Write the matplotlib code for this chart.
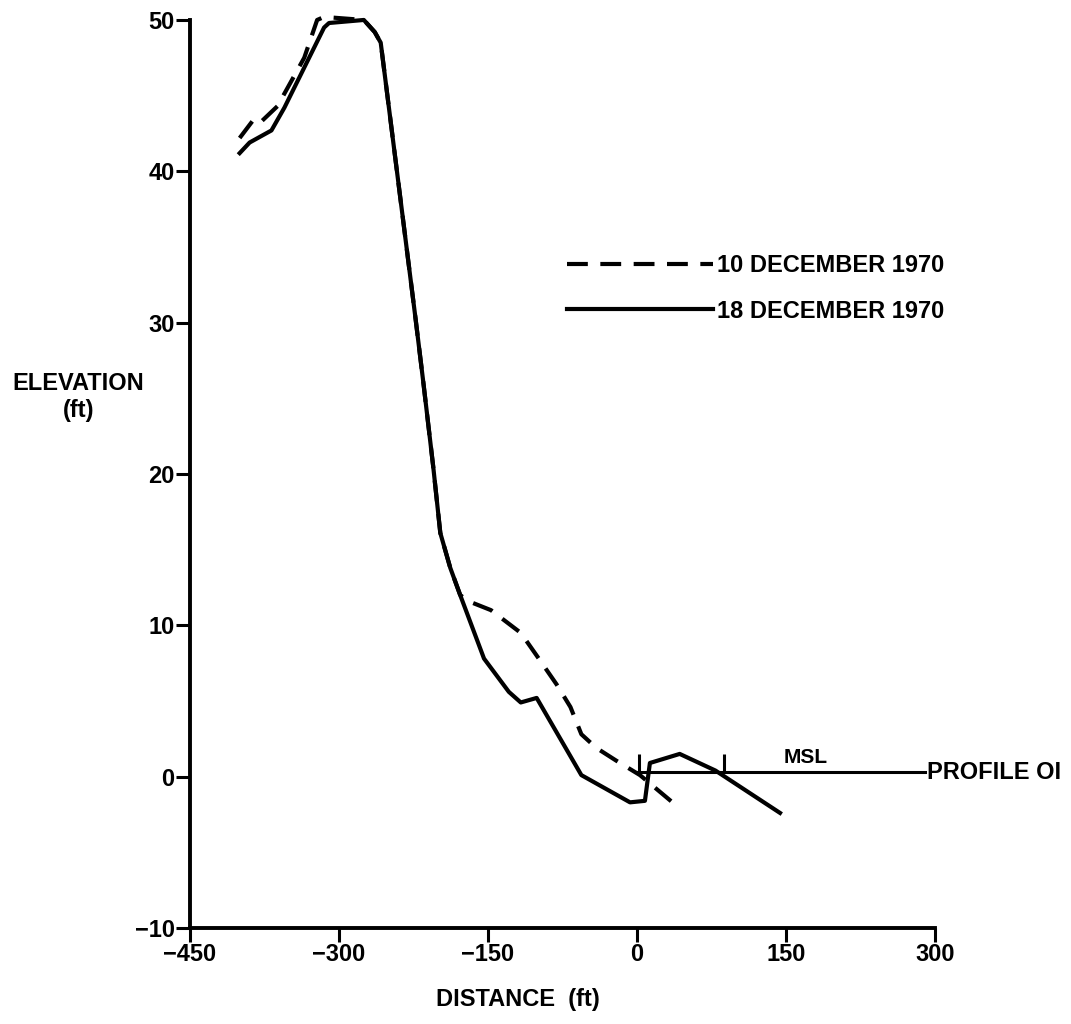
import matplotlib
matplotlib.use("Agg")
import matplotlib.pyplot as plt

# 18 December 1970 profile (solid)
solid_x = [-400, -390, -368, -355, -315, -310, -275, -264, -258, -238, -223, -215,
           -205, -198, -188, -178, -154, -129, -117, -101, -56, -7, 8, 13, 43, 79, 144]
solid_y = [41.2, 41.9, 42.7, 44.2, 49.5, 49.8, 50.0, 49.2, 48.5, 38.1, 30.3, 26.0,
           20.4, 16.1, 13.8, 12.0, 7.8, 5.6, 4.9, 5.2, 0.1, -1.7, -1.6, 0.9, 1.5, 0.4, -2.4]

# 10 December 1970 profile (dashed)
dashed_x = [-400, -385, -378, -362, -335, -322, -315, -275, -264, -258, -238, -223,
            -215, -205, -198, -188, -178, -170, -147, -117, -101, -81, -67, -56, -41,
            -21, 3, 43]
dashed_y = [42.2, 43.5, 43.3, 44.3, 47.5, 50.0, 50.2, 50.0, 49.2, 48.5, 38.1, 30.3,
            26.0, 20.4, 16.1, 13.8, 12.0, 11.6, 11.0, 9.5, 8.0, 6.1, 4.6, 2.8, 1.9,
            1.06, 0.1, -2.1]

msl_x = [0, 290]
msl_y = 0.3
msl_marks = [2, 88]
msl_mark_top = 1.5

x_ticks = [-450, -300, -150, 0, 150, 300]
y_ticks = [-10, 0, 10, 20, 30, 40, 50]

plt.rcParams['font.family'] = ['Liberation Sans', 'DejaVu Sans']
plt.rcParams['font.weight'] = 'bold'
plt.rcParams['axes.labelweight'] = 'bold'

fig = plt.figure(figsize=(10.71, 10.24), dpi=100)
ax = fig.add_axes([0.1774, 0.0938, 0.6956, 0.8867])

ax.plot(dashed_x, dashed_y, color='black', lw=3, dashes=(5, 3), clip_on=False,
        label='10 DECEMBER 1970')
ax.plot(solid_x, solid_y, color='black', lw=3, solid_joinstyle='round',
        clip_on=False, label='18 DECEMBER 1970')

# mean sea level line
ax.plot(msl_x, [msl_y, msl_y], color='black', lw=2.2)
ax.vlines(msl_marks, msl_y, msl_mark_top, color='black', lw=2.2)
ax.text(170, msl_y + 0.35, 'MSL', ha='center', va='bottom', fontsize=15)
ax.text(msl_x[1] + 2, msl_y, 'PROFILE OI', ha='left', va='center', fontsize=17,
        clip_on=False)

ax.set_xlim(-450, 300)
ax.set_ylim(-10, 50)
ax.set_xticks(x_ticks)
ax.set_yticks(y_ticks)
ax.set_xticklabels([str(v).replace('-', '\u2212') for v in x_ticks])
ax.set_yticklabels([str(v).replace('-', '\u2212') for v in y_ticks])

for side in ['top', 'right']:
    ax.spines[side].set_visible(False)
for side in ['left', 'bottom']:
    ax.spines[side].set_linewidth(2.8)
ax.tick_params(axis='both', length=10, width=2.2, labelsize=17, pad=1)

ax.set_xlabel('DISTANCE  (ft)', fontsize=17)
ax.xaxis.set_label_coords(0.44, -0.066)
ax.set_ylabel('ELEVATION\n(ft)', fontsize=17, rotation=0, ha='center', va='center',
              multialignment='center')
ax.yaxis.set_label_coords(-0.15, 0.585)

ax.legend(loc='upper left', bbox_to_anchor=(0.506, 0.742), frameon=False,
          fontsize=17, handlelength=6.2, handletextpad=0.15, labelspacing=0.95,
          borderpad=0, borderaxespad=0)

fig.savefig('out.png', dpi=100)
